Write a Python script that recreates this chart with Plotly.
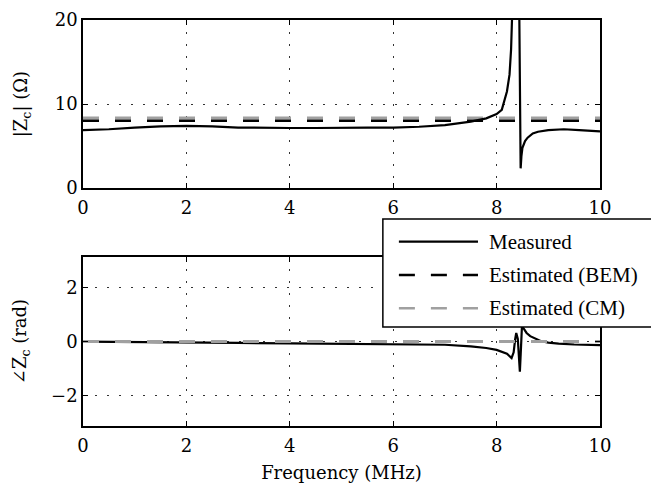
import plotly.graph_objects as go
import math

# ---------------- data ----------------
freq_mag = [0.0, 0.5, 1.0, 1.5, 2.0, 2.5, 3.0, 3.5, 4.0, 4.5, 5.0, 5.5, 6.0, 6.5,
            7.0, 7.5, 7.8, 8.0, 8.1, 8.2, 8.25, 8.28, 8.30, 8.32, 8.34, 8.38,
            8.42, 8.44, 8.45, 8.465, 8.48, 8.5, 8.55, 8.6, 8.7, 8.8, 9.0, 9.3,
            9.6, 10.0]
mag_measured = [6.9, 7.0, 7.2, 7.35, 7.4, 7.35, 7.2, 7.15, 7.15, 7.15, 7.2, 7.2,
                7.2, 7.3, 7.5, 7.9, 8.3, 8.8, 9.3, 11.5, 13.5, 16.5, 20.5, 26.0,
                32.0, 40.0, 35.0, 20.0, 9.0, 2.35, 3.8, 4.8, 5.6, 6.0, 6.5, 6.7,
                6.9, 7.0, 6.9, 6.75]

freq_phase = [0.0, 1.0, 2.0, 3.0, 4.0, 5.0, 6.0, 7.0, 7.5, 7.8, 8.0, 8.1, 8.2,
              8.29, 8.33, 8.36, 8.38, 8.41, 8.43, 8.45, 8.47, 8.49, 8.52, 8.58,
              8.65, 8.75, 8.85, 9.0, 9.2, 9.5, 10.0]
phase_measured = [0.0, -0.01, -0.03, -0.05, -0.07, -0.08, -0.1, -0.12, -0.18,
                  -0.24, -0.31, -0.37, -0.45, -0.61, -0.4, 0.1, 0.32, 0.1, -0.6,
                  -1.12, -0.3, 0.55, 0.5, 0.32, 0.2, 0.1, 0.02, -0.04, -0.08,
                  -0.11, -0.13]

freq_est = [0.0, 10.0]
mag_bem = [8.0, 8.0]
mag_cm = [8.35, 8.35]
phase_bem = [0.0, 0.0]
phase_cm = [0.0, 0.0]

x_ticks = [0, 2, 4, 6, 8, 10]
mag_ticks = [0, 10, 20]
phase_ticks = [-2, 0, 2]

legend_names = ["Measured", "Estimated (BEM)", "Estimated (CM)"]

# ---------------- styles ----------------
LEG_FONT = "Liberation Serif"
AX_FONT = "DejaVu Serif"
AX_FS = 18
BLACK = "#000000"
GRAY = "#a0a0a0"
DASH = "16px,16px"

fig = go.Figure()

fig.add_trace(go.Scatter(x=freq_est, y=mag_cm, mode="lines",
                         line=dict(color=GRAY, width=3, dash=DASH),
                         name=legend_names[2], xaxis="x", yaxis="y", showlegend=False))
fig.add_trace(go.Scatter(x=freq_est, y=mag_bem, mode="lines",
                         line=dict(color=BLACK, width=2.5, dash=DASH),
                         name=legend_names[1], xaxis="x", yaxis="y", showlegend=False))
fig.add_trace(go.Scatter(x=freq_mag, y=mag_measured, mode="lines",
                         line=dict(color=BLACK, width=2.2),
                         name=legend_names[0], xaxis="x", yaxis="y", showlegend=False))

fig.add_trace(go.Scatter(x=freq_phase, y=phase_measured, mode="lines",
                         line=dict(color=BLACK, width=2.2),
                         name=legend_names[0], xaxis="x2", yaxis="y2", showlegend=False))
fig.add_trace(go.Scatter(x=freq_est, y=phase_bem, mode="lines",
                         line=dict(color=BLACK, width=2.5, dash=DASH),
                         name=legend_names[1], xaxis="x2", yaxis="y2", showlegend=False))
fig.add_trace(go.Scatter(x=freq_est, y=phase_cm, mode="lines",
                         line=dict(color=GRAY, width=3, dash=DASH),
                         name=legend_names[2], xaxis="x2", yaxis="y2", showlegend=False))

axis_font = dict(family=AX_FONT, size=AX_FS, color=BLACK)
axis_common = dict(
    showline=True, linecolor=BLACK, linewidth=1.5, mirror="ticks",
    ticks="inside", ticklen=5, tickcolor=BLACK, tickwidth=1,
    showgrid=True, gridcolor="#333333", griddash="2px,10px", gridwidth=1,
    zeroline=False, automargin=False, tickfont=axis_font,
)

fig.update_layout(
    template="none",
    width=651, height=475,
    margin=dict(l=75, r=59, t=12, b=57),
    paper_bgcolor="white", plot_bgcolor="white",
    font=dict(family=LEG_FONT, size=20, color=BLACK),
    showlegend=False,
    xaxis=dict(domain=[0, 1], range=[0, 10], tickvals=x_ticks, anchor="y",
               ticklabelstandoff=3, **axis_common),
    yaxis=dict(domain=[0.586, 1], range=[0, 20], tickvals=mag_ticks, anchor="x",
               title=dict(text="|Z<sub>c</sub>| (Ω)", standoff=22, font=axis_font),
               **axis_common),
    xaxis2=dict(domain=[0, 1], range=[0, 10], tickvals=x_ticks, anchor="y2",
                ticklabelstandoff=3,
                title=dict(text="Frequency (MHz)", standoff=12, font=axis_font),
                **axis_common),
    yaxis2=dict(domain=[0, 0.416], range=[-math.pi, math.pi], tickvals=phase_ticks,
                anchor="x2",
                title=dict(text="∠Z<sub>c</sub> (rad)", standoff=20, font=axis_font),
                **axis_common),
)

# ---------------- custom legend ----------------
box = dict(x0=0.580, x1=1.13, y0=0.244, y1=0.510)
fig.add_shape(type="rect", xref="paper", yref="paper", layer="above",
              fillcolor="white", line=dict(color=BLACK, width=1.5), **box)
rows_y = [0.454, 0.372, 0.290]
styles = [dict(color=BLACK, width=2.2, dash="solid"),
          dict(color=BLACK, width=2.5, dash=DASH),
          dict(color=GRAY, width=2.5, dash=DASH)]
for name, yy, st in zip(legend_names, rows_y, styles):
    fig.add_shape(type="line", xref="paper", yref="paper", layer="above",
                  x0=0.611, x1=0.764, y0=yy, y1=yy, line=st)
    fig.add_annotation(xref="paper", yref="paper", x=0.781, y=yy, text=name,
                       showarrow=False, xanchor="left", yanchor="middle",
                       font=dict(family=LEG_FONT, size=21))

fig.write_html("out.html")
